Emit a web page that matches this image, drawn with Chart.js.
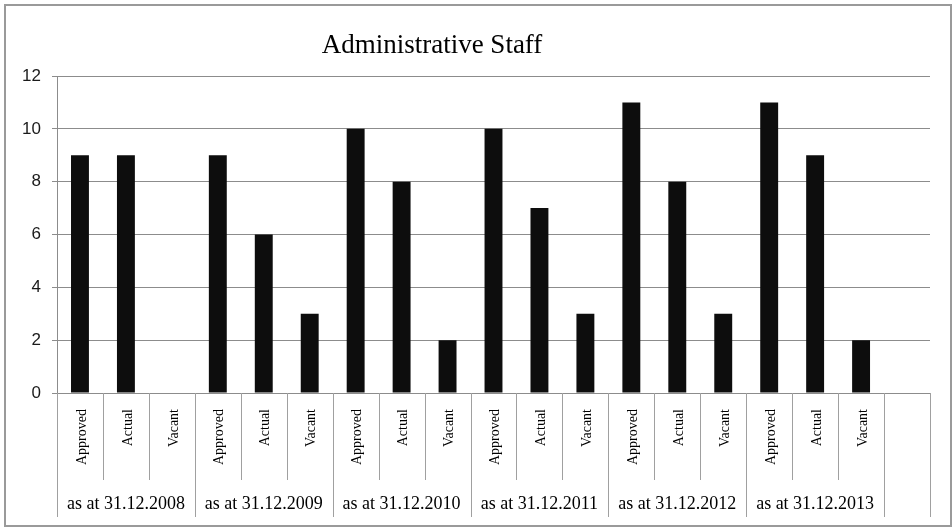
<!DOCTYPE html>
<html>
<head>
<meta charset="utf-8">
<script src="https://cdn.jsdelivr.net/npm/chart.js@4/dist/chart.umd.min.js"></script>
<style>
  html, body { margin: 0; padding: 0; background: #ffffff; }
  #wrap { position: relative; width: 952px; height: 528px; }
</style>
</head>
<body>
<div id="wrap"><canvas id="c" width="952" height="528"></canvas></div>
<script>
const chartTitle = "Administrative Staff";
const groups = ["as at 31.12.2008", "as at 31.12.2009", "as at 31.12.2010", "as at 31.12.2011", "as at 31.12.2012", "as at 31.12.2013"];
const subCategories = ["Approved", "Actual", "Vacant"];
const approved = [9, 9, 10, 10, 11, 11];
const actual = [9, 6, 8, 7, 8, 9];
const vacant = [0, 3, 2, 3, 3, 2];
const yTicks = [0, 2, 4, 6, 8, 10, 12];

// Build flat category list (3 per group) plus one trailing empty slot
const labels = [];
const values = [];
groups.forEach((g, i) => {
  labels.push(subCategories[0]); values.push(approved[i]);
  labels.push(subCategories[1]); values.push(actual[i]);
  labels.push(subCategories[2]); values.push(vacant[i]);
});
labels.push("");
values.push(null);

const decorPlugin = {
  id: 'decor',
  beforeDraw(chart) {
    const ctx = chart.ctx;
    ctx.save();
    ctx.fillStyle = '#ffffff';
    ctx.fillRect(0, 0, chart.width, chart.height);
    ctx.strokeStyle = '#9a9a9a';
    ctx.lineWidth = 2;
    ctx.strokeRect(5, 5, 946, 521);
    ctx.restore();
  },
  afterDraw(chart) {
    const ctx = chart.ctx;
    const x = chart.scales.x;
    const area = chart.chartArea;
    const n = labels.length;
    const half = (x.getPixelForValue(1) - x.getPixelForValue(0)) / 2;
    ctx.save();
    // title
    ctx.fillStyle = '#000000';
    ctx.font = '27px "Liberation Serif", "Times New Roman", serif';
    ctx.textAlign = 'center';
    ctx.textBaseline = 'middle';
    ctx.fillText(chartTitle, 432, 46);
    // separators
    ctx.strokeStyle = '#a0a0a0';
    ctx.lineWidth = 1;
    for (let i = 0; i <= n; i++) {
      const px = Math.round(x.getPixelForValue(i) - half) + 0.5;
      const isGroupEdge = (i % 3 === 0) || i === n;
      const yEnd = isGroupEdge ? 517 : 480;
      ctx.beginPath();
      ctx.moveTo(px, area.bottom);
      ctx.lineTo(px, yEnd);
      ctx.stroke();
    }
    // rotated sub-category labels
    ctx.fillStyle = '#000000';
    ctx.font = '14px "Liberation Serif", "Times New Roman", serif';
    for (let i = 0; i < n; i++) {
      if (!labels[i]) continue;
      const px = x.getPixelForValue(i) + 2;
      ctx.save();
      ctx.translate(px, 409);
      ctx.rotate(-Math.PI / 2);
      ctx.textAlign = 'right';
      ctx.textBaseline = 'middle';
      ctx.fillText(labels[i], 0, 0);
      ctx.restore();
    }
    // group labels
    ctx.font = '18px "Liberation Serif", "Times New Roman", serif';
    ctx.textAlign = 'center';
    ctx.textBaseline = 'middle';
    groups.forEach((g, gi) => {
      const cx = x.getPixelForValue(gi * 3 + 1);
      ctx.fillText(g, cx, 504);
    });
    ctx.restore();
  }
};

new Chart(document.getElementById('c'), {
  type: 'bar',
  data: {
    labels: labels,
    datasets: [{
      data: values,
      backgroundColor: '#0d0d0d',
      borderWidth: 0,
      barPercentage: 0.39,
      categoryPercentage: 1.0
    }]
  },
  options: {
    responsive: false,
    animation: false,
    devicePixelRatio: 1,
    layout: { padding: { top: 76, right: 22, bottom: 0, left: 0 } },
    plugins: {
      legend: { display: false },
      title: { display: false },
      tooltip: { enabled: false }
    },
    scales: {
      x: {
        ticks: { display: false },
        grid: { display: false },
        border: { display: false },
        afterFit(scale) { scale.height = 135; }
      },
      y: {
        min: 0,
        max: 12,
        afterBuildTicks(scale) { scale.ticks = yTicks.map(v => ({ value: v })); },
        ticks: {
          color: '#1a1a1a',
          font: { family: '"Liberation Sans", Arial, sans-serif', size: 17 },
          padding: 11
        },
        grid: { color: '#8c8c8c', lineWidth: 1, tickLength: 5, drawTicks: true },
        border: { display: true, color: '#8c8c8c', width: 1 },
        afterFit(scale) { scale.width = 57; }
      }
    }
  },
  plugins: [decorPlugin]
});
</script>
</body>
</html>
